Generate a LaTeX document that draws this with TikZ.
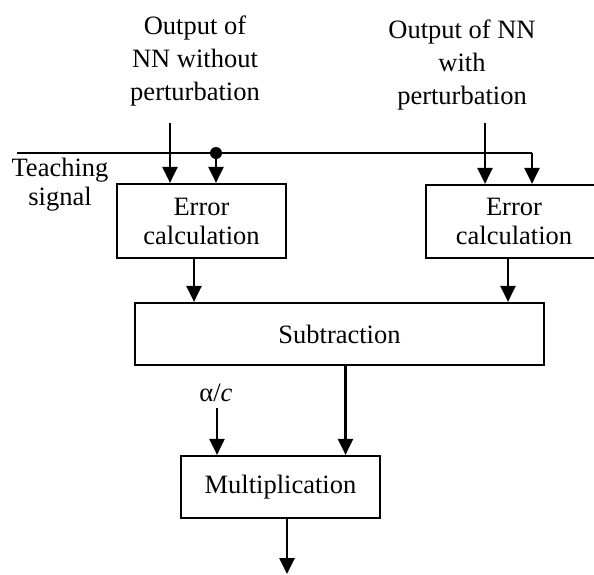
\documentclass[tikz,border=0pt]{standalone}
\usepackage{fontspec}
\setmainfont{Liberation Serif}
\usetikzlibrary{arrows.meta,positioning,calc}

\begin{document}
\begin{tikzpicture}[x=1pt, y=-1pt,
  % ── processing boxes ──
  blk/.style={draw, rectangle, line width=2.2pt, inner sep=0pt, align=center},
  % ── plain text labels ──
  lbl/.style={align=center, inner sep=0pt},
  % ── arrows ──
  arr/.style={-{Triangle[length=16pt,width=15pt]}, line width=2.6pt},
  wire/.style={line width=2.4pt},
  % ── misc ──
  jdot/.style={fill, circle, minimum size=12pt, inner sep=0},
  every node/.style={font=\fontsize{26.5}{29}\selectfont},
]

%% ─── frame (pixel grid, y downwards) ──────────────────────────
\clip (0,0) rectangle (594,574);

%% ─── 1. Boxes ──────────────────────────────────────────────────
\node[blk, minimum width=169pt, minimum height=74pt] (ErrA) at (201.5,221) {Error\\calculation};
\node[blk, minimum width=176pt, minimum height=73pt] (ErrB) at (514,221.5) {Error\\calculation};
\node[blk, minimum width=409pt, minimum height=62pt] (Sub) at (339.5,334) {Subtraction};
\node[blk, minimum width=199pt, minimum height=62pt] (Mul) at (280.5,487) {Multiplication};

%% ─── 2. Inputs and labels ──────────────────────────────────────
\node[lbl, font=\fontsize{26.5}{33}\selectfont] (OutA) at (195,61) {Output of\\NN without\\perturbation};
\node[lbl, font=\fontsize{26.5}{33}\selectfont] (OutB) at (462,65) {Output of NN\\with\\perturbation};
\node[lbl] (Teach) at (60,185) {Teaching\\signal};
\node[lbl, anchor=base] (Gain) at (216,401) {α/\textit{c}};

\coordinate (inA) at (170,123);
\coordinate (inB) at (485,123);
\coordinate (tsL) at (17,153);     % teaching signal line start
\coordinate (tsR) at (532,153);    % teaching signal line corner
\node[jdot] (Jt) at (216,153) {};  % junction
\coordinate (gainTop) at (217,408);
\coordinate (outEnd) at (287,574);

%% ─── 3. Teaching signal wire ───────────────────────────────────
\draw[wire] (tsL) -- (tsR);
\draw[arr] (tsR) -- (tsR |- ErrB.north);
\draw[arr] (Jt.center) -- (Jt |- ErrA.north);

%% ─── 4. Network outputs → error boxes ─────────────────────────
\draw[arr] (inA) -- (inA |- ErrA.north);
\draw[arr] (inB) -- (inB |- ErrB.north);

%% ─── 5. Error → Subtraction → Multiplication ──────────────────
\draw[arr] ([xshift=-7.5pt]ErrA.south) -- ([xshift=-7.5pt]ErrA.south |- Sub.north);
\draw[arr] ([xshift=-6pt]ErrB.south) -- ([xshift=-6pt]ErrB.south |- Sub.north);
\draw[arr] ([xshift=6pt]Sub.south) -- ([xshift=6pt]Sub.south |- Mul.north);
\draw[arr] (gainTop) -- (gainTop |- Mul.north);
\draw[arr] ([xshift=6.5pt]Mul.south) -- (outEnd);

\end{tikzpicture}
\end{document}
